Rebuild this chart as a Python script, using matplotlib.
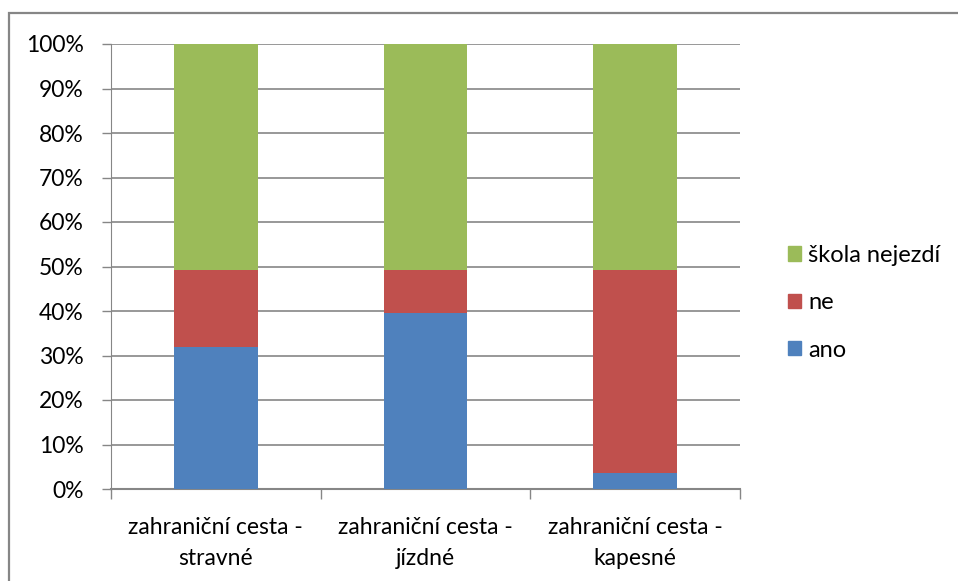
import matplotlib.pyplot as plt
from matplotlib.patches import Rectangle, Patch
import numpy as np

plt.rcParams['font.family'] = ['Lato', 'DejaVu Sans']

# values in percent
categories = ['zahraniční cesta -\nstravné', 'zahraniční cesta -\njízdné', 'zahraniční cesta -\nkapesné']
ano = [31.9, 39.5, 3.5]
ne = [17.4, 9.8, 45.8]
skola_nejezdi = [50.7, 50.7, 50.7]

c_ano = '#4F81BD'
c_ne = '#C0504D'
c_skola = '#9BBB59'
grid_c = '#868686'

fig = plt.figure(figsize=(9.58, 5.81), dpi=100)
ax = fig.add_axes([111 / 958, 1 - 489 / 581, 629 / 958, 445 / 581])

x = np.arange(len(categories))
b1 = np.array(ano)
b2 = b1 + np.array(ne)
ax.bar(x, ano, width=0.4, color=c_ano, zorder=3)
ax.bar(x, ne, width=0.4, bottom=b1, color=c_ne, zorder=3)
ax.bar(x, skola_nejezdi, width=0.4, bottom=b2, color=c_skola, zorder=3)

ax.set_xlim(-0.5, 2.5)
ax.set_ylim(0, 100)
ax.set_yticks(np.arange(0, 101, 10))
ax.set_yticklabels([f'{v}%' for v in range(0, 101, 10)], fontsize=16.5)
ax.yaxis.grid(True, color=grid_c, linewidth=1.2, zorder=0)

ax.set_xticks(x)
ax.set_xticklabels(categories, fontsize=16.5, linespacing=1.6)
ax.tick_params(axis='x', length=0, pad=20)
ax.set_xticks([-0.5, 0.5, 1.5, 2.5], minor=True)
ax.tick_params(axis='x', which='minor', length=7, color=grid_c, width=1)
ax.tick_params(axis='y', length=6.5, color=grid_c, width=1, pad=13)

for s in ['top', 'right']:
    ax.spines[s].set_visible(False)
ax.spines['left'].set_color(grid_c)
ax.spines['bottom'].set_color(grid_c)
ax.spines['bottom'].set_linewidth(1.5)

handles = [Patch(color=c_skola, label='škola nejezdí'),
           Patch(color=c_ne, label='ne'),
           Patch(color=c_ano, label='ano')]
fig.legend(handles=handles, loc='upper left', bbox_to_anchor=(776 / 958, 1 - 233 / 581),
           frameon=False, fontsize=17, handlelength=0.55, handleheight=0.55,
           handletextpad=0.3, labelspacing=1.12, borderpad=0)

# chart border
fig.patches.append(Rectangle((9 / 958, -0.1), 1.2, 1 - 13 / 581 + 0.1, transform=fig.transFigure,
                             fill=False, edgecolor='#868686', linewidth=1.6))

fig.savefig('out.png', dpi=100)
